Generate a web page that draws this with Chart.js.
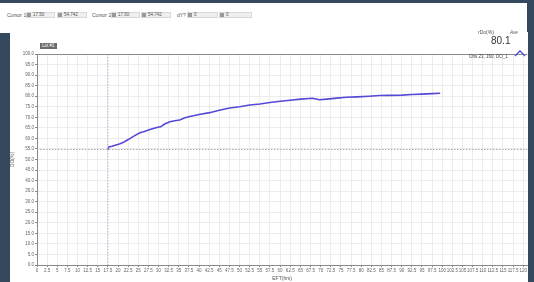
<!DOCTYPE html>
<html>
<head>
<meta charset="utf-8">
<script src="https://cdn.jsdelivr.net/npm/chart.js"></script>
<style>
  * { margin: 0; padding: 0; box-sizing: border-box; }
  body { width: 534px; height: 282px; background: #34495e; position: relative; overflow: hidden; font-family: "Liberation Sans", Arial, sans-serif; }
  .header { position: absolute; left: 0; top: 3px; width: 527px; height: 30px; background: #fff; }
  .panel { position: absolute; left: 10px; top: 32px; width: 518px; height: 250px; background: #fff; }
  .lbl { position: absolute; top: 12px; font-size: 5px; color: #555; line-height: 6px; }
  .box { position: absolute; top: 12px; height: 6px; background: #efefef; border: 1px solid #d8d8d8; font-size: 4.5px; line-height: 4px; color: #555; padding-left: 6px; }
  .box i { position: absolute; left: 0; top: 0; width: 4px; height: 4px; background: #999; }
  .legend { position: absolute; left: 40px; top: 43px; height: 6px; padding: 0 2px; background: #6b6b6b; color: #fff; font-size: 4.5px; line-height: 6px; }
  .kpiTitle { position: absolute; left: 478px; top: 29px; font-size: 5px; color: #555; }
  .kpiAve { position: absolute; left: 510px; top: 30px; font-size: 4.5px; color: #555; font-style: italic; }
  .kpiValue { position: absolute; left: 491px; top: 35px; font-size: 10px; color: #333; }
  .obs { position: absolute; left: 469px; top: 54px; font-size: 4.5px; color: #444; }
  canvas { position: absolute; left: 10px; top: 32px; }
</style>
</head>
<body>
<div class="header"></div>
<div class="panel"></div>

<div class="lbl" style="left:7px">Cursor 1</div>
<div class="box" style="left:26px;width:29px"><i></i>17.50</div>
<div class="box" style="left:57px;width:30px"><i></i>54.742</div>
<div class="lbl" style="left:92px">Cursor 2</div>
<div class="box" style="left:111px;width:29px"><i></i>17.50</div>
<div class="box" style="left:141px;width:30px"><i></i>54.742</div>
<div class="lbl" style="left:177px">dY?</div>
<div class="box" style="left:187px;width:31px"><i></i>0</div>
<div class="box" style="left:219px;width:33px"><i></i>0</div>

<canvas id="chart" width="518" height="250"></canvas>

<div class="legend">Lot #1</div>
<div class="kpiTitle">rDo(%)</div>
<div class="kpiAve">Ave</div>
<div class="kpiValue">80.1</div>
<div class="obs">Obs 23, 160, DO_1</div>
<svg style="position:absolute;left:514px;top:49px" width="12" height="8"><polyline points="1,7 6,2 11,7" fill="none" stroke="#4a4ad8" stroke-width="1.3"/></svg>

<script>
// Curve (time in hrs, DO in %)
const timeHrs = [17.5, 17.7, 18.5, 19.5, 20.5, 21.2, 22.0, 23.0, 24.0, 25.4, 26.5, 27.5, 28.5, 29.8, 30.5, 31.5, 32.8, 34.0, 35.2, 36.5, 38.0, 40.0, 42.6, 45.0, 47.5, 50.0, 52.5, 55.0, 57.5, 60.0, 62.5, 65.0, 68.0, 69.7, 71.5, 74.0, 76.3, 79.0, 82.0, 84.5, 87.0, 90.1, 92.5, 95.0, 97.5, 99.5];
const doValues = [54.7, 56.0, 56.3, 56.9, 57.5, 58.0, 58.9, 60.0, 61.2, 62.7, 63.3, 64.0, 64.6, 65.3, 65.5, 66.8, 67.9, 68.4, 68.7, 69.8, 70.5, 71.3, 72.2, 73.3, 74.4, 75.0, 75.8, 76.3, 77.0, 77.6, 78.1, 78.6, 79.0, 78.3, 78.6, 79.1, 79.5, 79.7, 80.0, 80.3, 80.4, 80.5, 80.8, 81.0, 81.2, 81.4];
const cursorX = 17.5;
const cursorY = 54.742;

const points = timeHrs.map((t, i) => ({ x: t, y: doValues[i] }));

// cursor lines + top border, positioned through the chart scales
const cursorPlugin = {
    id: 'cursor',
    afterDraw(chart) {
        const { ctx, chartArea: a, scales } = chart;
        const px = scales.x.getPixelForValue(cursorX);
        const py = scales.y.getPixelForValue(cursorY);
        ctx.save();
        ctx.setLineDash([1.5, 1.5]);
        ctx.lineWidth = 1;
        ctx.strokeStyle = '#b9b3e0';
        ctx.beginPath(); ctx.moveTo(px, a.top); ctx.lineTo(px, a.bottom); ctx.stroke();
        ctx.strokeStyle = '#aaaaaa';
        ctx.beginPath(); ctx.moveTo(a.left, py); ctx.lineTo(a.right, py); ctx.stroke();
        ctx.setLineDash([]);
        ctx.strokeStyle = '#8a8a8a';
        ctx.beginPath(); ctx.moveTo(a.left, a.top + 0.5); ctx.lineTo(a.right, a.top + 0.5); ctx.stroke();
        ctx.restore();
    }
};

new Chart(document.getElementById('chart'), {
    type: 'line',
    data: {
        datasets: [{
            data: points,
            borderColor: '#5549d8',
            borderWidth: 1.6,
            pointRadius: 0,
            tension: 0
        }]
    },
    options: {
        responsive: false,
        animation: false,
        layout: { padding: { top: 22, right: 0, left: 0, bottom: 0 } },
        plugins: { legend: { display: false }, tooltip: { enabled: false } },
        scales: {
            x: {
                type: 'linear',
                min: 0,
                max: 121,
                afterFit: s => { s.height = 17; },
                ticks: {
                    stepSize: 2.5,
                    includeBounds: false,
                    autoSkip: false,
                    maxRotation: 0,
                    padding: 1,
                    color: '#666',
                    font: { size: 4.5 },
                    callback: v => String(v)
                },
                grid: { color: '#ececec', lineWidth: 1, tickLength: 2, tickColor: '#888' },
                border: { color: '#8a8a8a' },
                title: { display: true, text: 'EFT(hrs)', color: '#555', font: { size: 5 }, padding: 0 }
            },
            y: {
                min: 0,
                max: 100,
                afterFit: s => { s.width = 27; },
                ticks: {
                    stepSize: 5,
                    padding: 1,
                    color: '#666',
                    font: { size: 4.5 },
                    callback: v => Number(v).toFixed(1)
                },
                grid: { color: '#ececec', lineWidth: 1, tickLength: 2, tickColor: '#888' },
                border: { color: '#8a8a8a' },
                title: { display: true, text: 'DO(%)', color: '#555', font: { size: 5 }, padding: 0 }
            }
        }
    },
    plugins: [cursorPlugin]
});
</script>
</body>
</html>
